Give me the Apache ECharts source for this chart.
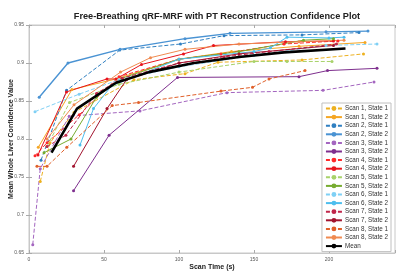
<!DOCTYPE html>
<html><head><meta charset="utf-8">
<script src="https://cdn.jsdelivr.net/npm/echarts@6/dist/echarts.min.js"></script>
<style>html,body{margin:0;padding:0;background:#fff}#c{width:400px;height:275px}</style>
</head><body><div id="c"></div>
<script>
// Series names (legend labels)
const seriesNames = ['Scan 1, State 1','Scan 1, State 2','Scan 2, State 1','Scan 2, State 2',
  'Scan 3, State 1','Scan 3, State 2','Scan 4, State 1','Scan 4, State 2',
  'Scan 5, State 1','Scan 5, State 2','Scan 6, State 1','Scan 6, State 2',
  'Scan 7, State 1','Scan 7, State 2','Scan 8, State 1','Scan 8, State 2'];

// Scan times (s) and confidence values per series
const s1s1T = [7.5, 14, 30, 70, 104, 126, 182, 223];
const s1s1V = [0.744, 0.795, 0.835, 0.878, 0.886, 0.901, 0.904, 0.912];
const s1s2T = [6.2, 28.6, 58, 100, 135, 180, 224];
const s1s2V = [0.789, 0.865, 0.879, 0.905, 0.915, 0.922, 0.927];
const s2s1T = [8, 25, 60.5, 101, 130, 182, 220];
const s2s1V = [0.772, 0.864, 0.917, 0.925, 0.936, 0.937, 0.940];
const s2s2T = [6.8, 26, 60.7, 104, 134, 198, 226];
const s2s2V = [0.855, 0.900, 0.918, 0.932, 0.939, 0.941, 0.942];
const s3s1T = [2.5, 7.5, 26.8, 74, 132, 196, 230];
const s3s1V = [0.661, 0.761, 0.830, 0.837, 0.861, 0.864, 0.875];
const s3s2T = [29.7, 53.4, 99, 180, 199, 232];
const s3s2V = [0.732, 0.805, 0.881, 0.882, 0.890, 0.893];
const s4s1T = [4, 12, 33.5, 60, 100, 128, 170, 206];
const s4s1V = [0.778, 0.795, 0.832, 0.882, 0.905, 0.912, 0.925, 0.929];
const s4s2T = [6, 25, 52, 58, 75, 103, 123, 171, 203];
const s4s2V = [0.779, 0.862, 0.879, 0.879, 0.898, 0.912, 0.923, 0.928, 0.929];
const s5s1T = [12, 27, 60, 100, 150, 172, 202];
const s5s1V = [0.790, 0.848, 0.872, 0.888, 0.902, 0.902, 0.902];
const s5s2T = [10, 28, 45, 62, 100, 140, 183, 203];
const s5s2V = [0.782, 0.800, 0.855, 0.880, 0.905, 0.915, 0.930, 0.932];
const s6s1T = [4, 33.4, 60, 100, 150, 198, 232];
const s6s1V = [0.836, 0.859, 0.878, 0.895, 0.910, 0.923, 0.925];
const s6s2T = [34, 43, 55, 100, 150, 161, 172, 200, 210];
const s6s2V = [0.792, 0.840, 0.870, 0.905, 0.915, 0.920, 0.934, 0.933, 0.934];
const s7s1T = [12, 24.6, 45, 62, 100, 130, 160, 205];
const s7s1V = [0.790, 0.805, 0.860, 0.880, 0.900, 0.908, 0.915, 0.925];
const s7s2T = [29.7, 52, 65, 100, 140, 203];
const s7s2V = [0.764, 0.840, 0.878, 0.900, 0.912, 0.923];
const s8s1T = [5.3, 12, 25.2, 55.5, 73, 128, 149, 160, 184];
const s8s1V = [0.764, 0.764, 0.789, 0.844, 0.848, 0.863, 0.868, 0.879, 0.890];
const s8s2T = [12, 30, 61, 81, 104, 140, 180, 210];
const s8s2V = [0.800, 0.845, 0.888, 0.907, 0.918, 0.925, 0.928, 0.930];
const meanT = [15, 32, 58, 80, 110, 140, 170, 211];
const meanV = [0.782, 0.840, 0.874, 0.888, 0.900, 0.908, 0.914, 0.919];

const xTicks = [0, 50, 100, 150, 200];
const yTicks = [0.65, 0.7, 0.75, 0.8, 0.85, 0.9, 0.95];

const allT = [s1s1T,s1s2T,s2s1T,s2s2T,s3s1T,s3s2T,s4s1T,s4s2T,s5s1T,s5s2T,s6s1T,s6s2T,s7s1T,s7s2T,s8s1T,s8s2T];
const allV = [s1s1V,s1s2V,s2s1V,s2s2V,s3s1V,s3s2V,s4s1V,s4s2V,s5s1V,s5s2V,s6s1V,s6s2V,s7s1V,s7s2V,s8s1V,s8s2V];
const colors = ['#EDB120','#F5A623','#2F7FC1','#4A93D3','#A466C0','#7E2F8E','#FF2A2A','#E8141C',
  '#A8D26A','#77AC30','#7FD0F5','#4DBEEE','#C0264A','#A2142F','#E0602A','#F08A50'];

const zip = (t, v) => t.map((x, i) => [x, v[i]]);
const series = seriesNames.map((n, i) => ({
  name: n, type: 'line', data: zip(allT[i], allV[i]),
  symbol: 'circle', symbolSize: 3, showSymbol: true,
  lineStyle: { color: colors[i], width: i === 3 ? 1.4 : 1, type: i % 2 === 0 ? [4, 2] : 'solid' },
  itemStyle: { color: colors[i] }, z: 2, animation: false
}));
series.push({
  name: 'Mean', type: 'line', data: zip(meanT, meanV), symbol: 'none',
  lineStyle: { color: '#000', width: 2.6 }, itemStyle: { color: '#000' }, z: 3, animation: false
});

const fam = 'Liberation Sans, Arial, sans-serif';
const chart = echarts.init(document.getElementById('c'), null, { renderer: 'canvas' });
chart.setOption({
  animation: false,
  backgroundColor: '#fff',
  title: { text: 'Free-Breathing qRF-MRF with PT Reconstruction Confidence Plot', left: 212, top: 7, textAlign: 'center',
    textStyle: { fontFamily: fam, fontSize: 9.2, fontWeight: 'bold', color: '#222' } },
  grid: { left: 29, right: 5, top: 25, bottom: 22, show: true, borderColor: '#c8c8c8', borderWidth: 1,
    containLabel: false, outerBoundsMode: 'none' },
  legend: {
    orient: 'vertical', right: 9, top: 103, padding: [2, 3, 2, 3],
    backgroundColor: '#fff', borderColor: '#c0c0c0', borderWidth: 1,
    itemWidth: 16, itemHeight: 6, itemGap: 1.6,
    textStyle: { fontFamily: fam, fontSize: 6.3, color: '#333', lineHeight: 7, padding: [0, 0, 0, -2] },
    data: seriesNames.concat(['Mean'])
  },
  xAxis: [{
    type: 'value', min: 0, max: 244, interval: 50,
    name: 'Scan Time (s)', nameLocation: 'middle', nameGap: 10.5, nameMoveOverlap: false,
    nameTextStyle: { fontFamily: fam, fontSize: 7, fontWeight: 'bold', color: '#222' },
    axisLine: { lineStyle: { color: '#c8c8c8' } },
    axisTick: { inside: true, length: 3, lineStyle: { color: '#aaa' } },
    axisLabel: { fontFamily: fam, fontSize: 5, color: '#555', margin: 4,
      formatter: v => xTicks.includes(v) ? String(v) : '' },
    splitLine: { show: false }
  }, {
    type: 'value', position: 'top', min: 0, max: 244, interval: 50,
    axisLine: { lineStyle: { color: '#c8c8c8' } },
    axisTick: { inside: true, length: 3, lineStyle: { color: '#aaa' } },
    axisLabel: { show: false }, splitLine: { show: false }
  }],
  yAxis: [{
    type: 'value', min: 0.65, max: 0.95, interval: 0.05,
    name: 'Mean Whole Liver Confidence Value', nameLocation: 'middle', nameGap: 14, nameMoveOverlap: false,
    nameTextStyle: { fontFamily: fam, fontSize: 7, fontWeight: 'bold', color: '#222' },
    axisLine: { show: true, lineStyle: { color: '#c8c8c8' } },
    axisTick: { show: true, inside: true, length: 3, lineStyle: { color: '#aaa' } },
    axisLabel: { fontFamily: fam, fontSize: 5, color: '#555', margin: 5,
      formatter: v => { const r = Math.round(v * 100) / 100; return yTicks.some(t => Math.abs(t - r) < 1e-9) ? String(r) : ''; } },
    splitLine: { show: false }
  }, {
    type: 'value', position: 'right', min: 0.65, max: 0.95, interval: 0.05,
    axisLine: { show: true, lineStyle: { color: '#c8c8c8' } },
    axisTick: { show: true, inside: true, length: 3, lineStyle: { color: '#aaa' } },
    axisLabel: { show: false }, splitLine: { show: false }
  }],
  series: series
});
</script>
</body></html>
